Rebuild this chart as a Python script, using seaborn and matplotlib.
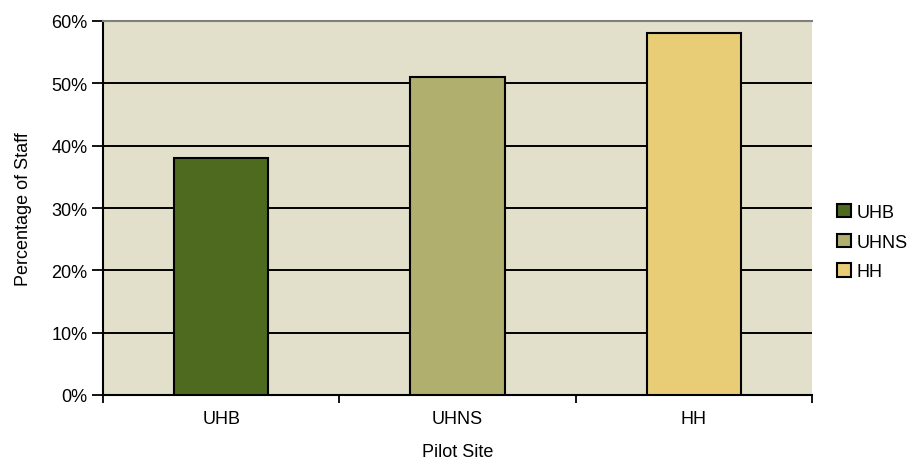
import matplotlib
matplotlib.use("Agg")
import matplotlib.pyplot as plt
from matplotlib.ticker import FuncFormatter, MultipleLocator
import seaborn as sns
import pandas as pd

sites = ["UHB", "UHNS", "HH"]
staff_pct = [38, 51, 58]
colors = ["#4E6A1F", "#B0AF6E", "#E8CD76"]

sns.set_style("white")
plt.rcParams["font.family"] = ["Liberation Sans", "DejaVu Sans"]
plt.rcParams["text.color"] = "black"
plt.rcParams["axes.labelcolor"] = "black"
plt.rcParams["xtick.color"] = "black"
plt.rcParams["ytick.color"] = "black"

df = pd.DataFrame({"Pilot Site": sites, "Percentage of Staff": staff_pct})

fig = plt.figure(figsize=(9.1, 4.64), dpi=100)
ax = fig.add_axes([103 / 910, 68 / 464, 709 / 910, 374 / 464])
ax.set_facecolor("#E2E0CA")

sns.barplot(data=df, x="Pilot Site", y="Percentage of Staff", hue="Pilot Site",
            palette=colors, saturation=1, width=0.4, edgecolor="black", linewidth=1.5,
            legend=True, ax=ax, zorder=3)

ax.set_ylim(0, 60)
ax.set_xlim(-0.5, 2.5)
ax.yaxis.set_major_locator(MultipleLocator(10))
ax.yaxis.set_major_formatter(FuncFormatter(lambda v, _: f"{v:.0f}%"))
ax.grid(axis="y", color="black", linewidth=1.4, zorder=1)
ax.set_axisbelow(True)

# category separators as x ticks, labels in between
ax.set_xticks([-0.5, 0.5, 1.5, 2.5])
ax.set_xticklabels([])
ax.set_xticks([0, 1, 2], minor=True)
ax.set_xticklabels(sites, minor=True)
ax.tick_params(axis="x", which="major", direction="out", length=6, width=1.3, color="black")
ax.tick_params(axis="x", which="minor", length=0, pad=11, labelsize=13, labelcolor="black")
ax.tick_params(axis="y", direction="out", length=8, width=1.3, color="black", labelsize=13,
               pad=3, labelcolor="black")
ax.tick_params(axis="both", bottom=True, left=True)

for side in ["left", "bottom"]:
    ax.spines[side].set_color("black")
    ax.spines[side].set_linewidth(1.5)
ax.spines["top"].set_color("#808080")
ax.spines["top"].set_linewidth(1.5)
ax.spines["right"].set_visible(False)

ax.set_xlabel("Pilot Site", fontsize=13, labelpad=11, color="black")
ax.set_ylabel("Percentage of Staff", fontsize=13, labelpad=14, color="black")

handles, labels = ax.get_legend_handles_labels()
ax.get_legend().remove()
fig.legend(handles, labels, loc="center left", bbox_to_anchor=(830 / 910, 0.476),
           frameon=False, fontsize=13, handlelength=0.75, handleheight=0.75,
           handletextpad=0.3, labelspacing=0.7, borderaxespad=0, labelcolor="black")

fig.savefig("out.png", dpi=100, facecolor="white")
